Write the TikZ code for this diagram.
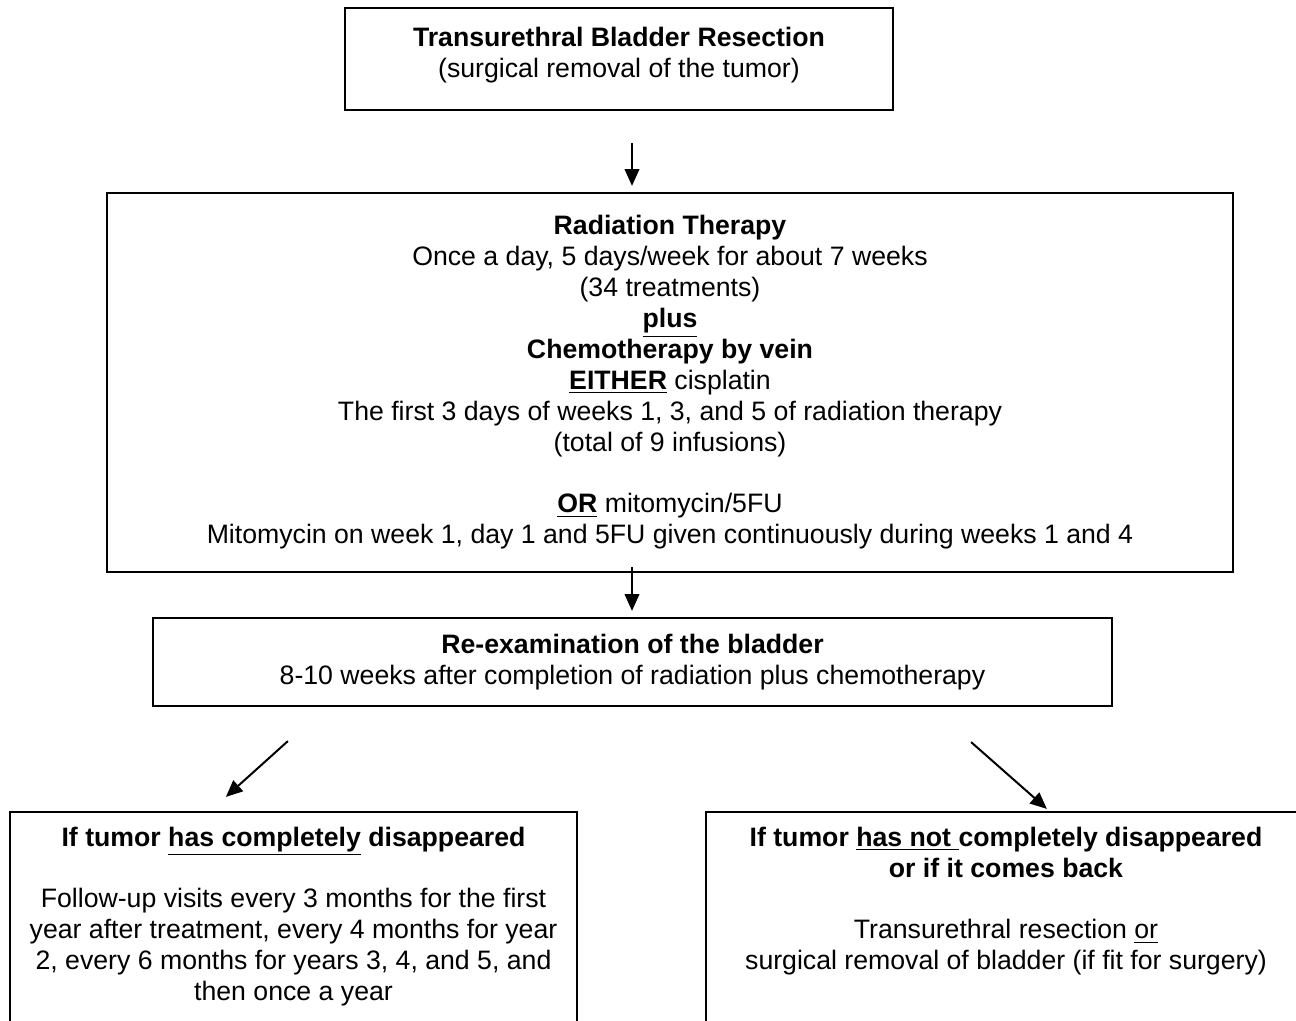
\documentclass[tikz,border=0pt]{standalone}
\usepackage{fontspec}
\setmainfont{Liberation Sans}
\usetikzlibrary{arrows.meta,positioning}
\newcommand{\pxu}{0.45pt}

\begin{document}
\begin{tikzpicture}[
    x=0.45pt, y=-0.45pt,
    every node/.style={font=\fontsize{12}{13.9}\selectfont},
    box/.style={rectangle, draw=black, line width=1pt, inner sep=0pt},
    txt/.style={align=center, inner sep=0pt},
    arr/.style={-{Triangle[length=7.5pt, width=6.5pt]}, line width=0.9pt}]
\useasboundingbox (0,0) rectangle (1296,1021);
\clip (0,0) rectangle (1296,1021);
\node[box, minimum width=548*\pxu, minimum height=102*\pxu] (resect) at (619,59) {};
\node[txt, below=9pt of resect.north] (resecttxt)
    {\textbf{Transurethral Bladder Resection}\\(surgical removal of the tumor)};
\node[box, txt, minimum width=1126*\pxu, minimum height=379*\pxu] (therapy) at (670,382.5)
    {\textbf{Radiation Therapy}\\
     Once a day, 5 days/week for about 7 weeks\\
     (34 treatments)\\
     \textbf{\underline{plus}}\\
     \textbf{Chemotherapy by vein}\\
     \textbf{\underline{EITHER}} cisplatin\\
     The first 3 days of weeks 1, 3, and 5 of radiation therapy\\
     (total of 9 infusions)\\[13.9pt]
     \textbf{\underline{OR}} mitomycin/5FU\\
     Mitomycin on week 1, day 1 and 5FU given continuously during weeks 1 and 4};
\node[box, txt, minimum width=959*\pxu, minimum height=88*\pxu] (reexam) at (632.5,662)
    {\textbf{Re-examination of the bladder}\\
     8-10 weeks after completion of radiation plus chemotherapy};
% outcome boxes run off the bottom of the page
\node[box, minimum width=567*\pxu, minimum height=228*\pxu] (gone) at (293.5,926) {};
\node[txt, below=7pt of gone.north] (gonetxt)
    {\textbf{If tumor \underline{has completely} disappeared}\\[13.9pt]
     Follow-up visits every 3 months for the first\\
     year after treatment, every 4 months for year\\
     2, every 6 months for years 3, 4, and 5, and\\
     then once a year};
\node[box, minimum width=600*\pxu, minimum height=228*\pxu] (left) at (1006,926) {};
\node[txt, below=7pt of left.north] (lefttxt)
    {\textbf{If tumor \underline{has not\ }completely disappeared}\\
     \textbf{or if it comes back}\\[13.9pt]
     Transurethral resection \underline{or}\\
     surgical removal of bladder (if fit for surgery)};
\draw[arr] ([shift={(13,32)}]resect.south) -- ([shift={(-38,-6)}]therapy.north);
\draw[arr] ([shift={(-38,-6)}]therapy.south) -- ([shift={(-0.5,-6)}]reexam.north);
\draw[arr] ([shift={(136,34)}]reexam.south west) -- ([shift={(217,-14)}]gone.north west);
\draw[arr] ([shift={(-142,35)}]reexam.south east) -- ([shift={(342,-2)}]left.north west);
\end{tikzpicture}
\end{document}
